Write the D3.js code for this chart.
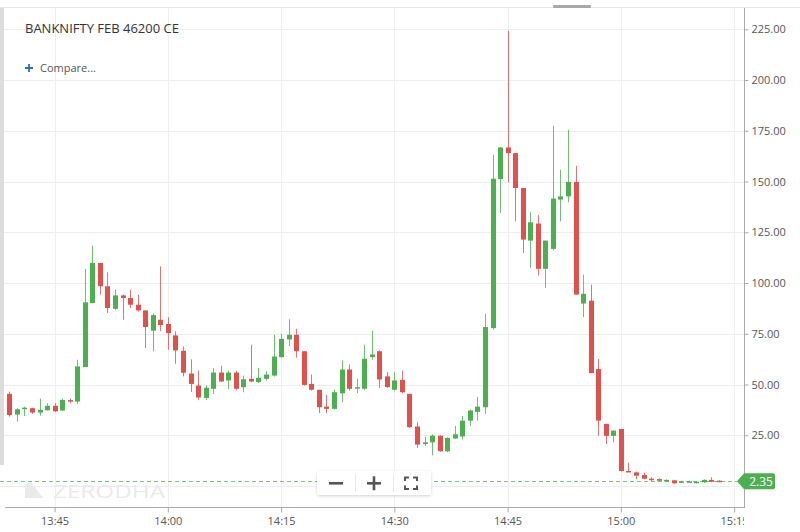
<!DOCTYPE html>
<html><head><meta charset="utf-8">
<script src="https://cdn.jsdelivr.net/npm/d3@7/dist/d3.min.js"></script>
<style>
body{margin:0;background:#fff;}
svg{display:block;font-family:"Open Sans",sans-serif;}
</style>
</head><body>
<svg id="c" width="800" height="532"></svg>
<script>
const title = "BANKNIFTY FEB 46200 CE";
const times = ["13:39","13:40","13:41","13:42","13:43","13:44","13:45","13:46","13:47","13:48","13:49","13:50","13:51","13:52","13:53","13:54","13:55","13:56","13:57","13:58","13:59",
"14:00","14:01","14:02","14:03","14:04","14:05","14:06","14:07","14:08","14:09","14:10","14:11","14:12","14:13","14:14","14:15","14:16","14:17","14:18","14:19",
"14:20","14:21","14:22","14:23","14:24","14:25","14:26","14:27","14:28","14:29","14:30","14:31","14:32","14:33","14:34","14:35","14:36","14:37","14:38","14:39",
"14:40","14:41","14:42","14:43","14:44","14:45","14:46","14:47","14:48","14:49","14:50","14:51","14:52","14:53","14:54","14:55","14:56","14:57","14:58","14:59",
"15:00","15:01","15:02","15:03","15:04","15:05","15:06","15:07","15:08","15:09","15:10","15:11","15:12","15:13"];
const opens = [45.4,35.2,38.2,38.3,36.2,37.3,39.5,37.2,42.3,41.6,58.6,90.1,109.9,98.4,87.3,93.9,92.6,89.3,86.5,76.5,
81.9,79.8,74.2,66.6,55.4,49.5,43.4,47.9,55.9,52.0,55.9,48.7,52.8,51.2,52.8,54.4,63.5,72.2,74.5,66.4,
50.3,47.4,39.1,38.0,45.7,57.4,48.4,47.9,63.5,66.4,54.0,47.4,52.3,45.4,29.3,20.7,21.5,24.8,17.1,23.4,
24.4,32.2,36.5,38.8,77.8,151.2,166.8,164.0,146.8,120.9,129.3,107.0,116.8,141.1,142.7,149.8,89.9,91.3,57.6,30.6,
24.7,28.1,7.4,6.7,5.4,3.6,3.4,2.5,2.8,2.0,2.2,1.8,1.8,3.0,2.6];
const highs = [46.5,38.3,39.1,38.6,43.1,40.8,40.8,43.1,43.1,62.2,106.9,118.4,109.9,105.3,96.7,94.2,96.7,94.2,86.5,85.0,
108.2,83.1,76.2,68.8,62.4,56.9,49.5,58.1,59.2,56.9,56.6,54.4,69.6,58.1,56.6,74.5,75.0,82.1,77.5,66.4,
54.9,47.4,44.9,47.4,61.8,59.9,52.8,69.6,76.6,66.8,56.1,56.1,56.9,45.4,31.4,24.1,25.5,24.8,24.0,29.6,
34.5,37.7,43.9,84.9,163.2,166.8,224.3,164.0,146.8,134.8,133.4,120.9,177.5,155.8,175.5,157.8,104.1,99.2,62.5,30.6,
27.3,28.1,11.5,7.1,6.6,4.3,3.8,3.3,2.8,2.6,2.6,2.5,3.3,4.3,2.8];
const lows = [34.2,31.7,34.5,35.5,34.7,37.2,36.5,37.0,40.8,40.5,58.6,90.1,94.2,85.2,86.8,81.9,87.7,86.0,67.9,66.3,
76.2,67.1,60.2,54.0,46.3,42.6,42.4,45.4,51.2,47.9,47.4,46.2,51.2,50.7,52.0,53.9,63.2,68.9,63.2,49.5,
47.0,36.0,35.9,37.7,41.3,47.0,45.7,47.4,62.2,48.4,48.4,47.0,45.7,28.6,18.8,19.6,15.1,16.9,16.6,23.2,
22.9,29.6,32.2,35.4,77.0,134.5,149.6,130.4,114.8,107.5,103.7,97.6,116.1,130.4,139.8,94.3,83.2,55.6,24.8,20.7,
21.5,7.1,7.1,3.3,3.3,2.3,2.3,2.0,1.2,1.6,1.8,1.3,1.6,1.8,2.1];
const closes = [35.0,37.8,38.6,36.2,37.5,39.5,36.8,42.4,41.8,58.9,90.5,109.9,98.4,87.7,93.9,92.6,89.3,86.5,78.3,84.2,
79.3,75.3,66.8,55.8,50.3,43.6,48.4,55.9,51.5,55.9,47.9,52.6,51.5,53.3,54.9,63.8,72.5,74.5,66.4,49.8,
47.4,38.8,38.0,46.2,57.4,47.9,48.7,62.7,64.8,52.5,48.7,52.0,46.2,29.0,20.4,21.5,24.8,17.1,23.7,25.5,
32.2,37.2,39.1,78.3,151.4,166.8,164.0,146.8,121.4,129.9,107.0,120.9,141.6,142.7,149.8,94.3,94.7,55.6,32.2,24.7,
27.3,7.4,7.1,5.1,3.6,3.3,2.6,3.0,1.3,2.3,2.3,2.1,3.0,2.1,2.35];
const yTicks = [25,50,75,100,125,150,175,200,225];
const gridValues = [0,25,50,75,100,125,150,175,200,225];
const lastPrice = 2.35;
const xStart = "13:39", xEnd = "15:15";

const UP = "#4caf50", DOWN = "#df514c";
const svg = d3.select("#c");
const parse = d3.timeParse("%H:%M");
const W = 800, H = 532;
const plotLeft = 0, plotRight = 744, plotTop = 8, plotBottom = 507;

const x = d3.scaleTime().domain([parse(xStart), parse(xEnd)]).range([9.3, 734.1]);
const y = d3.scaleLinear().domain([0, 225]).range([486, 29.3]);

const data = times.map((t, i) => ({t: parse(t), o: opens[i], h: highs[i], l: lows[i], c: closes[i]}));

svg.append("rect").attr("width", W).attr("height", H).attr("fill", "#fff");

const defs = svg.append("defs");
defs.append("clipPath").attr("id", "plotclip").append("rect")
  .attr("x", plotLeft).attr("y", plotTop).attr("width", plotRight - plotLeft).attr("height", plotBottom - plotTop);
defs.append("clipPath").attr("id", "xclip").append("rect")
  .attr("x", 0).attr("y", -1).attr("width", plotRight).attr("height", H - plotBottom);
const f = defs.append("filter").attr("id", "sh").attr("x", "-20%").attr("y", "-40%").attr("width", "140%").attr("height", "180%");
f.append("feDropShadow").attr("dx", 0).attr("dy", 1).attr("stdDeviation", 1.5).attr("flood-color", "#000").attr("flood-opacity", 0.18);

// top border + handle
svg.append("line").attr("x1", 0).attr("x2", W).attr("y1", 7.5).attr("y2", 7.5).attr("stroke", "#e6e6e6");
svg.append("rect").attr("x", 553).attr("y", 5).attr("width", 38).attr("height", 3).attr("fill", "#a8a8a8").attr("rx", 1);

// grid
const grid = svg.append("g").attr("clip-path", "url(#plotclip)");
grid.selectAll(".hg").data(gridValues).join("line")
  .attr("x1", plotLeft).attr("x2", plotRight)
  .attr("y1", d => Math.round(y(d)) + 0.5).attr("y2", d => Math.round(y(d)) + 0.5)
  .attr("stroke", "#eeeeee");
const xTicks = x.ticks(d3.timeMinute.every(15));
grid.selectAll(".vg").data(xTicks).join("line")
  .attr("y1", plotTop).attr("y2", plotBottom)
  .attr("x1", d => Math.round(x(d)) + 0.5).attr("x2", d => Math.round(x(d)) + 0.5)
  .attr("stroke", "#eeeeee");

// left strip
svg.append("rect").attr("x", 0).attr("y", 8).attr("width", 4).attr("height", 457).attr("fill", "#dcdcdc");

// watermark
const wm = svg.append("g").attr("fill", "#eaeaea");
wm.append("path").attr("d", "M25,498 L25,487 Q25,484 28,483 L31,482 L43,498 Z");
wm.append("text").attr("x", 53).attr("y", 498).attr("font-size", 18.5).attr("font-weight", 400)
  .attr("textLength", 112).attr("lengthAdjust", "spacingAndGlyphs").text("ZERODHA");

// axes lines
svg.append("line").attr("x1", plotRight + 0.5).attr("x2", plotRight + 0.5).attr("y1", plotTop).attr("y2", plotBottom + 0.5)
  .attr("stroke", "#aaaaaa");
svg.append("line").attr("x1", 5).attr("x2", plotRight + 1).attr("y1", plotBottom + 0.5).attr("y2", plotBottom + 0.5)
  .attr("stroke", "#aaaaaa");

// y axis
const yAxis = svg.append("g").attr("transform", `translate(${plotRight + 0.5},0)`)
  .call(d3.axisRight(y).tickValues(yTicks).tickFormat(d3.format(".2f")).tickSize(4).tickPadding(3));
yAxis.select(".domain").remove();
yAxis.selectAll(".tick line").attr("stroke", "#aaaaaa");
yAxis.selectAll(".tick text").attr("fill", "#555").attr("font-size", 11).attr("font-family", "Open Sans, sans-serif");

// x axis
const xAxis = svg.append("g").attr("transform", `translate(0,${plotBottom + 0.5})`).attr("clip-path", "url(#xclip)")
  .call(d3.axisBottom(x).ticks(d3.timeMinute.every(15)).tickFormat(d3.timeFormat("%H:%M")).tickSize(5).tickPadding(5));
xAxis.select(".domain").remove();
xAxis.selectAll(".tick line").attr("stroke", "#aaaaaa");
xAxis.selectAll(".tick text").attr("fill", "#555").attr("font-size", 11).attr("font-family", "Open Sans, sans-serif");

// dashed last price line
svg.append("line").attr("x1", 0).attr("x2", 737).attr("y1", Math.round(y(lastPrice)) + 0.5).attr("y2", Math.round(y(lastPrice)) + 0.5)
  .attr("stroke", UP).attr("stroke-opacity", 0.75).attr("stroke-dasharray", "4,3");

// candles
const cg = svg.append("g").attr("clip-path", "url(#plotclip)");
const candle = cg.selectAll(".cd").data(data).join("g");
candle.append("line")
  .attr("x1", d => Math.round(x(d.t)) + 0.5).attr("x2", d => Math.round(x(d.t)) + 0.5)
  .attr("y1", d => y(d.h)).attr("y2", d => y(d.l))
  .attr("stroke", d => d.c >= d.o ? UP : DOWN).attr("stroke-width", 1).attr("stroke-opacity", 0.8);
candle.append("rect")
  .attr("x", d => Math.round(x(d.t)) - 2).attr("width", 5)
  .attr("y", d => y(Math.max(d.o, d.c)))
  .attr("height", d => Math.max(1.5, Math.abs(y(d.o) - y(d.c))))
  .attr("fill", d => d.c >= d.o ? UP : DOWN);

// zoom control
const zc = svg.append("g");
zc.append("rect").attr("x", 317).attr("y", 471).attr("width", 114).attr("height", 24).attr("rx", 2)
  .attr("fill", "#fff").attr("filter", "url(#sh)");
zc.append("line").attr("x1", 355.5).attr("x2", 355.5).attr("y1", 474).attr("y2", 492).attr("stroke", "#e8e8e8");
zc.append("line").attr("x1", 393.5).attr("x2", 393.5).attr("y1", 474).attr("y2", 492).attr("stroke", "#e8e8e8");
zc.append("rect").attr("x", 329).attr("y", 482).attr("width", 14).attr("height", 2.6).attr("fill", "#555");
zc.append("rect").attr("x", 367).attr("y", 482).attr("width", 14).attr("height", 2.6).attr("fill", "#555");
zc.append("rect").attr("x", 372.7).attr("y", 476.3).attr("width", 2.6).attr("height", 14).attr("fill", "#555");
zc.append("path").attr("d", "M405,481 V477.5 H409 M413,477.5 H417 V481 M417,485.5 V489 H413 M409,489 H405 V485.5")
  .attr("fill", "none").attr("stroke", "#555").attr("stroke-width", 2);

// price tag
const py = y(lastPrice);
svg.append("path")
  .attr("d", `M737,${py} L744,${py - 8} L773,${py - 8} Q775,${py - 8} 775,${py - 6} L775,${py + 6} Q775,${py + 8} 773,${py + 8} L744,${py + 8} Z`)
  .attr("fill", UP);
svg.append("text").attr("x", 761).attr("y", py + 5).attr("text-anchor", "middle")
  .attr("fill", "#fff").attr("font-size", 12).text(lastPrice.toFixed(2));

// title & compare
svg.append("text").attr("x", 25).attr("y", 33).attr("font-size", 13).attr("fill", "#333").text(title);
svg.append("path").attr("d", "M25,68 H33 M29,64 V72").attr("stroke", "#2b6cc4").attr("stroke-width", 1.8);
svg.append("text").attr("x", 40).attr("y", 72).attr("font-size", 11).attr("fill", "#555").text("Compare...");
</script>
</body></html>
